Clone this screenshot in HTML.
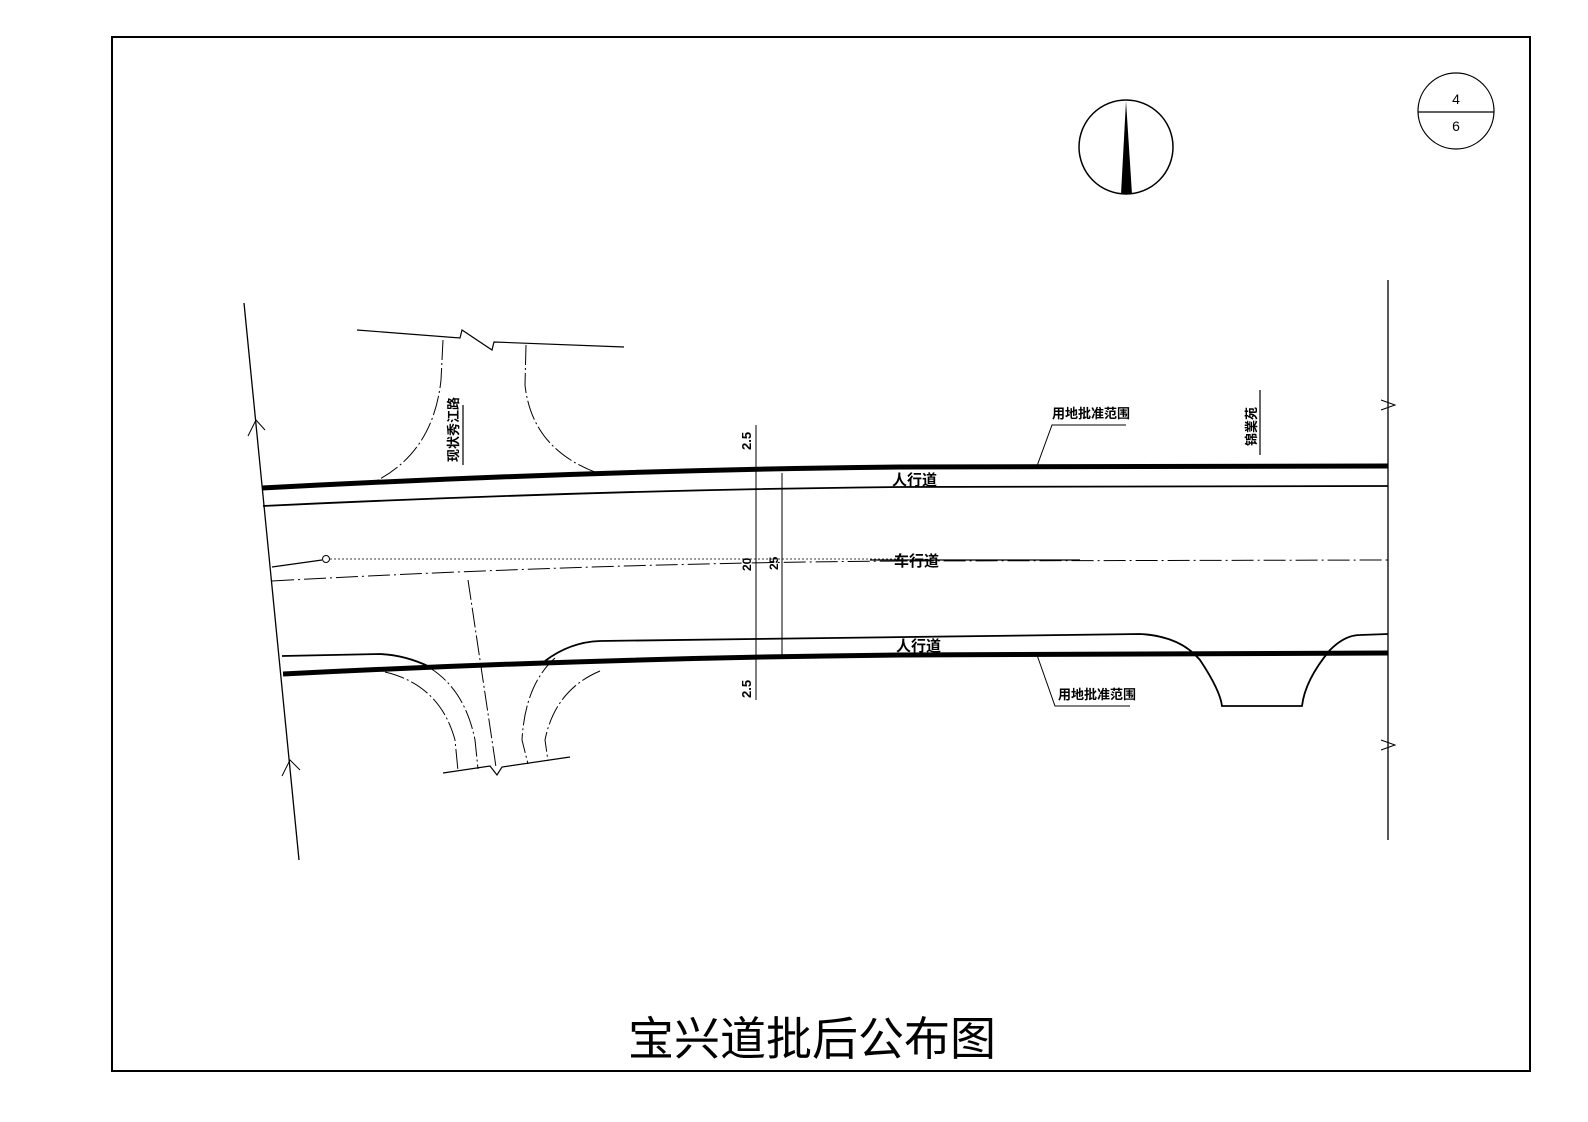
<!DOCTYPE html>
<html><head><meta charset="utf-8"><style>
html,body{margin:0;padding:0;background:#fff;}
svg{display:block;}
text{font-family:"Liberation Sans","Noto Sans CJK SC",sans-serif;}
</style></head><body>
<svg width="1588" height="1122" viewBox="0 0 1588 1122" xmlns="http://www.w3.org/2000/svg">
<rect x="112" y="37" width="1418" height="1034" fill="none" stroke="#000" stroke-width="2"/>
<circle cx="1126" cy="147" r="47" fill="none" stroke="#000" stroke-width="1.5"/>
<polygon points="1126,101 1121,194 1132,194" fill="#000"/>
<circle cx="1456" cy="111" r="38" fill="none" stroke="#000" stroke-width="1.2"/>
<line x1="1418" y1="112" x2="1494" y2="112" stroke="#000" stroke-width="1.2"/>
<text x="1456" y="104" font-size="14" text-anchor="middle">4</text>
<text x="1456" y="131" font-size="14" text-anchor="middle">6</text>
<g fill="none" stroke="#000">
<line x1="244" y1="303" x2="299" y2="860" stroke-width="1.3"/>
<line x1="1388" y1="280" x2="1388" y2="840" stroke-width="1.3"/>
<path d="M248,436 L256,420 L265,430" stroke-width="1"/>
<path d="M282,776 L290,760 L300,770" stroke-width="1"/>
<path d="M1381,410 L1395,405 L1381,400" stroke-width="1"/>
<path d="M1381,750 L1395,745 L1381,740" stroke-width="1"/>
<path d="M262,488 Q600,470 900,467 L1388,466" stroke-width="5"/>
<path d="M263,506 Q600,490 900,487 L1388,486" stroke-width="1.8"/>
<path d="M272,581 Q600,563 900,561 L1388,560" stroke-width="1" stroke-dasharray="22,4,2,4"/>
<path d="M272,567 L322,560" stroke-width="1.3"/>
<circle cx="326" cy="559" r="3.5" stroke-width="1"/>
<line x1="330" y1="559" x2="900" y2="559" stroke-width="0.8" stroke-dasharray="2,2"/>
<line x1="870" y1="560" x2="1080" y2="560" stroke-width="1.3"/>
<path d="M283,674 Q600,658 900,655 L1388,653" stroke-width="5"/>
<path d="M282,656 L380,654 Q405,655 430,667" stroke-width="1.8"/>
<path d="M545,661 Q570,642 600,641 L1140,634 Q1180,636 1200,660 Q1220,690 1222,706 L1302,706 Q1305,680 1330,650 Q1345,635 1360,635 L1388,634" stroke-width="1.8"/>
<path d="M357,330 L460,338 L462,330 L492,350 L494,342 L624,347" stroke-width="1.2"/>
<path d="M443,340 L441,380 Q433,455 370,484" stroke-width="1" stroke-dasharray="20,3,2,3"/>
<path d="M526,345 L525,385 Q532,450 600,474" stroke-width="1" stroke-dasharray="20,3,2,3"/>
<path d="M443,773 L490,766 L497,775 L502,767 L570,757" stroke-width="1.2"/>
<path d="M385,672 Q440,685 455,740 L458,771" stroke-width="1" stroke-dasharray="20,3,2,3"/>
<path d="M430,668 Q465,690 475,740 L478,769" stroke-width="1" stroke-dasharray="20,3,2,3"/>
<path d="M468,580 L480,660 L496,767" stroke-width="1" stroke-dasharray="20,3,2,3"/>
<path d="M555,658 Q525,685 522,740 L528,764" stroke-width="1" stroke-dasharray="20,3,2,3"/>
<path d="M600,671 Q555,690 545,740 L548,761" stroke-width="1" stroke-dasharray="20,3,2,3"/>
<line x1="756" y1="425" x2="756" y2="700" stroke-width="1"/>
<line x1="782" y1="473" x2="782" y2="658" stroke-width="1"/>
<path d="M1037,466 L1052,425 L1126,425" stroke-width="1"/>
<path d="M1037,655 L1055,706 L1130,706" stroke-width="1"/>
<line x1="463" y1="405" x2="463" y2="465" stroke-width="1.2"/>
<line x1="1260" y1="390" x2="1260" y2="455" stroke-width="1.2"/>
</g>
<g font-weight="bold" fill="#000">
<text x="1052" y="418" font-size="13">用地批准范围</text>
<text x="1058" y="699" font-size="13">用地批准范围</text>
<text x="892" y="485" font-size="15">人行道</text>
<text x="894" y="566" font-size="15">车行道</text>
<text x="896" y="651" font-size="15">人行道</text>
<text transform="translate(458,462) rotate(-90)" font-size="13">现状秀江路</text>
<text transform="translate(1256,446) rotate(-90)" font-size="13">锦業苑</text>
<text transform="translate(751,450) rotate(-90)" font-size="13">2.5</text>
<text transform="translate(751,698) rotate(-90)" font-size="13">2.5</text>
<text transform="translate(751,571) rotate(-90)" font-size="12">20</text>
<text transform="translate(778,570) rotate(-90)" font-size="12">25</text>
</g>
<text x="812" y="1055" font-size="46" text-anchor="middle" font-family="'Noto Sans CJK SC',sans-serif">宝兴道批后公布图</text>
</svg>
</body></html>
